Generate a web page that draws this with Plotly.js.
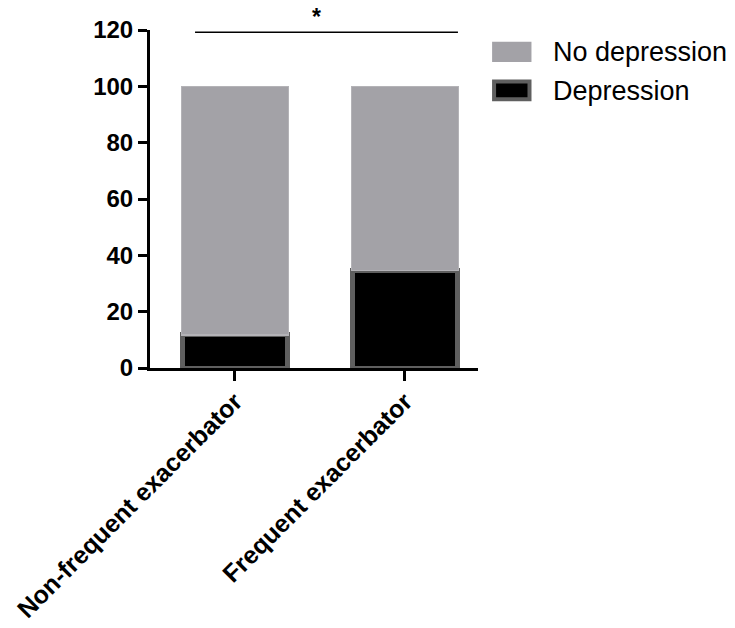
<!DOCTYPE html>
<html>
<head>
<meta charset="utf-8">
<script src="https://cdn.plot.ly/plotly-3.0.1.min.js"></script>
<style>html,body{margin:0;padding:0;background:#fff;}#chart{width:735px;height:628px;}</style>
</head>
<body>
<div id="chart"></div>
<script>
const categories = ["Non-frequent exacerbator", "Frequent exacerbator"];
const depression = [11.8, 34.6];
const noDepression = [88.2, 65.4];
const seriesNames = ["Depression", "No depression"];
const yTicks = [0, 20, 40, 60, 80, 100, 120];
const sigLabel = "*";

const FONT = "Arial, 'Liberation Sans', Helvetica, sans-serif";
const GRAY = "#a3a2a7";
const DARK = "#5f5f5f";

const traces = [
  {
    type: "bar", name: seriesNames[0], x: categories, y: depression,
    width: 0.62,
    marker: {color: "#000000", line: {color: DARK, width: 5}},
    showlegend: false, hoverinfo: "y"
  },
  {
    type: "bar", name: seriesNames[1], x: categories, y: noDepression,
    width: 0.63,
    marker: {color: GRAY, line: {color: "#b4b3b7", width: 1.5}},
    showlegend: false, hoverinfo: "y"
  }
];

const layout = {
  width: 735, height: 628,
  margin: {l: 150, r: 257, t: 30, b: 260},
  paper_bgcolor: "#fff", plot_bgcolor: "#fff",
  barmode: "stack",
  showlegend: false,
  font: {family: FONT, color: "#000"},
  xaxis: {
    type: "category",
    range: [-0.5, 1.43],
    showline: true, linecolor: "#000", linewidth: 3,
    ticks: "outside", ticklen: 10, tickwidth: 3, tickcolor: "#000",
    tickangle: -45,
    ticklabelstandoff: -4,
    tickfont: {family: FONT, size: 25, color: "#000", weight: "bold"},
    showgrid: false, zeroline: false, fixedrange: true
  },
  yaxis: {
    range: [0, 120],
    tickvals: yTicks, ticktext: yTicks.map(String),
    showline: true, linecolor: "#000", linewidth: 3,
    ticks: "outside", ticklen: 9, tickwidth: 3, tickcolor: "#000",
    tickfont: {family: FONT, size: 24, color: "#000", weight: "bold"},
    showgrid: false, zeroline: false, fixedrange: true
  },
  shapes: [
    {type: "line", xref: "x", yref: "y", x0: -0.235, x1: 1.312, y0: 119.2, y1: 119.2,
     line: {color: "#000", width: 1.5}},
    {type: "rect", xref: "paper", yref: "paper", x0: 1.043, x1: 1.163, y0: 0.905, y1: 0.965,
     fillcolor: GRAY, line: {color: GRAY, width: 0}},
    {type: "rect", xref: "paper", yref: "paper", x0: 1.049, x1: 1.157, y0: 0.795, y1: 0.848,
     fillcolor: "#000", line: {color: DARK, width: 4}}
  ],
  annotations: [
    {xref: "paper", yref: "paper", x: 0.509, y: 1.038, text: sigLabel, showarrow: false,
     font: {family: FONT, size: 23, color: "#000", weight: "bold"}, xanchor: "center", yanchor: "middle"},
    {xref: "paper", yref: "paper", x: 1.222, y: 0.936, text: seriesNames[1], showarrow: false,
     font: {family: FONT, size: 27, color: "#000"}, xanchor: "left", yanchor: "middle"},
    {xref: "paper", yref: "paper", x: 1.222, y: 0.821, text: seriesNames[0], showarrow: false,
     font: {family: FONT, size: 27, color: "#000"}, xanchor: "left", yanchor: "middle"}
  ]
};

Plotly.newPlot("chart", traces, layout, {displayModeBar: false, staticPlot: true});
</script>
</body>
</html>
